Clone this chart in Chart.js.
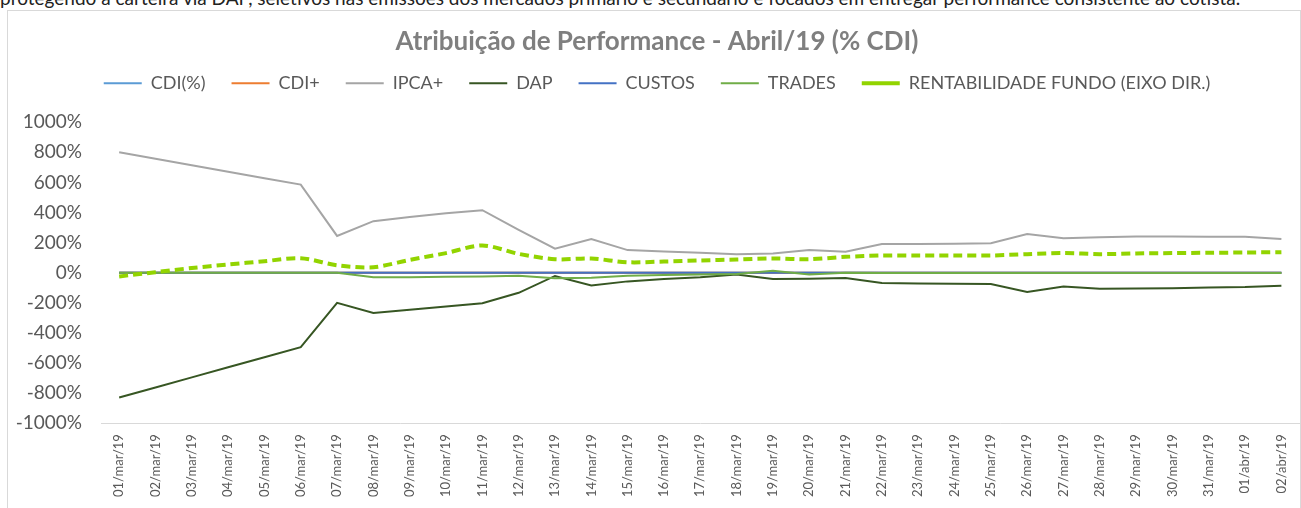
<!DOCTYPE html>
<html>
<head>
<meta charset="utf-8">
<script src="https://cdn.jsdelivr.net/npm/chart.js@4.4.1/dist/chart.umd.min.js"></script>
<style>
  body { margin: 0; background: #fff; width: 1301px; height: 508px; overflow: hidden; position: relative; }
  #intro { position: absolute; left: 0; top: 0; height: 9px; width: 1301px; overflow: hidden; }
  #intro span { position: absolute; left: 0; top: -14px; font: 19px Lato, sans-serif; color: #222; white-space: nowrap; }
  #box { position: absolute; left: 7px; top: 10px; width: 1294px; height: 502px; border: 1px solid #D9D9D9; box-sizing: border-box; }
</style>
</head>
<body>
<div id="intro"><span>protegendo a carteira via DAP, seletivos nas emissões dos mercados primário e secundário e focados em entregar performance consistente ao cotista.</span></div>
<div id="box"><canvas id="perf"></canvas></div>
<script>
var days = ['01/mar/19','02/mar/19','03/mar/19','04/mar/19','05/mar/19','06/mar/19','07/mar/19','08/mar/19','09/mar/19','10/mar/19',
  '11/mar/19','12/mar/19','13/mar/19','14/mar/19','15/mar/19','16/mar/19','17/mar/19','18/mar/19','19/mar/19','20/mar/19',
  '21/mar/19','22/mar/19','23/mar/19','24/mar/19','25/mar/19','26/mar/19','27/mar/19','28/mar/19','29/mar/19','30/mar/19',
  '31/mar/19','01/abr/19','02/abr/19']

var cdiPct = [0,0,0,0,0,0,0,0,0,0,0,0,0,0,0,0,0,0,0,0,0,0,0,0,0,0,0,0,0,0,0,0,0]
var cdiPlus = [0,0,0,0,0,0,0,0,0,0,0,0,0,0,0,0,0,0,0,0,0,0,0,0,0,0,0,0,0,0,0,0,0]
var ipca = [800,757,714,671,628,585,244,342,370,395,415,285,159,224,150,141,132,123,128,150,139,190,190,192,195,257,228,235,240,240,238,238,224]
var dap = [-830,-763,-696,-629,-562,-495,-201,-268,-247,-225,-203,-134,-22,-85,-58,-42,-31,-13,-42,-40,-36,-69,-72,-74,-76,-128,-92,-107,-105,-103,-98,-96,-87]
var custos = [0,0,0,0,0,0,0,0,0,0,0,0,0,0,0,0,0,0,0,0,0,0,0,0,0,0,0,0,0,0,0,0,0]
var trades = [0,0,0,0,0,0,0,-31,-30,-28,-25,-20,-38,-34,-20,-16,-13,-9,13,-13,0,-3,-3,-3,-3,-3,-3,-3,-3,-3,-3,-3,-2]
var rentabilidade = [-25,3,31,54,76,96,49,36,85,130,181,125,89,94,69,74,81,87,94,89,105,114,114,114,114,123,130,123,128,130,132,134,136]

var yTicks = [-1000,-800,-600,-400,-200,0,200,400,600,800,1000]

function serie(label, data, color, idx) {
    return {
        label: label,
        data: data,
        borderColor: color,
        backgroundColor: color,
        borderWidth: 2,
        pointRadius: 0,
        tension: 0,
        yAxisID: 'y',
        order: 10 - idx
    }
}

// a bit of room between legend and plot, like the excel original
var legendGap = {
    id: 'legendGap',
    beforeInit(chart) {
        var fit = chart.legend.fit
        chart.legend.fit = function () {
            fit.bind(chart.legend)()
            this.height += 20
        }
    }
}

new Chart('perf', {
    type: 'line',
    data: {
        labels: days,
        datasets: [
            serie('CDI(%)', cdiPct, '#5B9BD5', 0),
            serie('CDI+', cdiPlus, '#ED7D31', 1),
            serie('IPCA+', ipca, '#A5A5A5', 2),
            serie('DAP', dap, '#375623', 3),
            serie('CUSTOS', custos, '#4472C4', 4),
            serie('TRADES', trades, '#70AD47', 5),
            {
                label: 'RENTABILIDADE FUNDO (EIXO DIR.)',
                data: rentabilidade,
                borderColor: '#92D400',
                backgroundColor: '#92D400',
                borderWidth: 4,
                borderDash: [9, 5],
                pointRadius: 0,
                tension: 0.3,
                yAxisID: 'y1',
                order: 0
            }
        ]
    },
    plugins: [legendGap],
    options: {
        responsive: true,
        maintainAspectRatio: false,
        animation: false,
        layout: { padding: { left: 1, right: -5, top: 0, bottom: 11 } },
        plugins: {
            title: {
                display: true,
                text: 'Atribuição de Performance - Abril/19 (% CDI)',
                color: '#7F7F7F',
                font: { family: 'Lato', size: 26, weight: 'bold' },
                padding: { top: 15, bottom: -9 }
            },
            legend: {
                labels: {
                    usePointStyle: true,
                    pointStyle: 'line',
                    pointStyleWidth: 38,
                    boxHeight: 2,
                    color: '#595959',
                    font: { family: 'Lato', size: 18 },
                    padding: 26,
                    sort: (a, b) => a.datasetIndex - b.datasetIndex
                }
            },
            tooltip: { enabled: false }
        },
        scales: {
            x: {
                offset: true,
                grid: { display: false },
                border: { display: true, color: '#D9D9D9' },
                ticks: {
                    color: '#595959',
                    font: { family: 'Lato', size: 13 },
                    minRotation: 90,
                    maxRotation: 90,
                    autoSkip: false
                }
            },
            y: {
                min: -1000,
                max: 1000,
                afterBuildTicks: (scale) => { scale.ticks = yTicks.map(v => ({ value: v })) },
                afterFit: (scale) => { scale.width = 92 },
                grid: { display: false },
                border: { display: false },
                ticks: {
                    color: '#595959',
                    font: { family: 'Lato', size: 19 },
                    padding: 11,
                    callback: (v) => v + '%'
                }
            },
            y1: {
                position: 'right',
                display: false,
                min: -1000,
                max: 1000
            }
        }
    }
})
</script>
</body>
</html>
